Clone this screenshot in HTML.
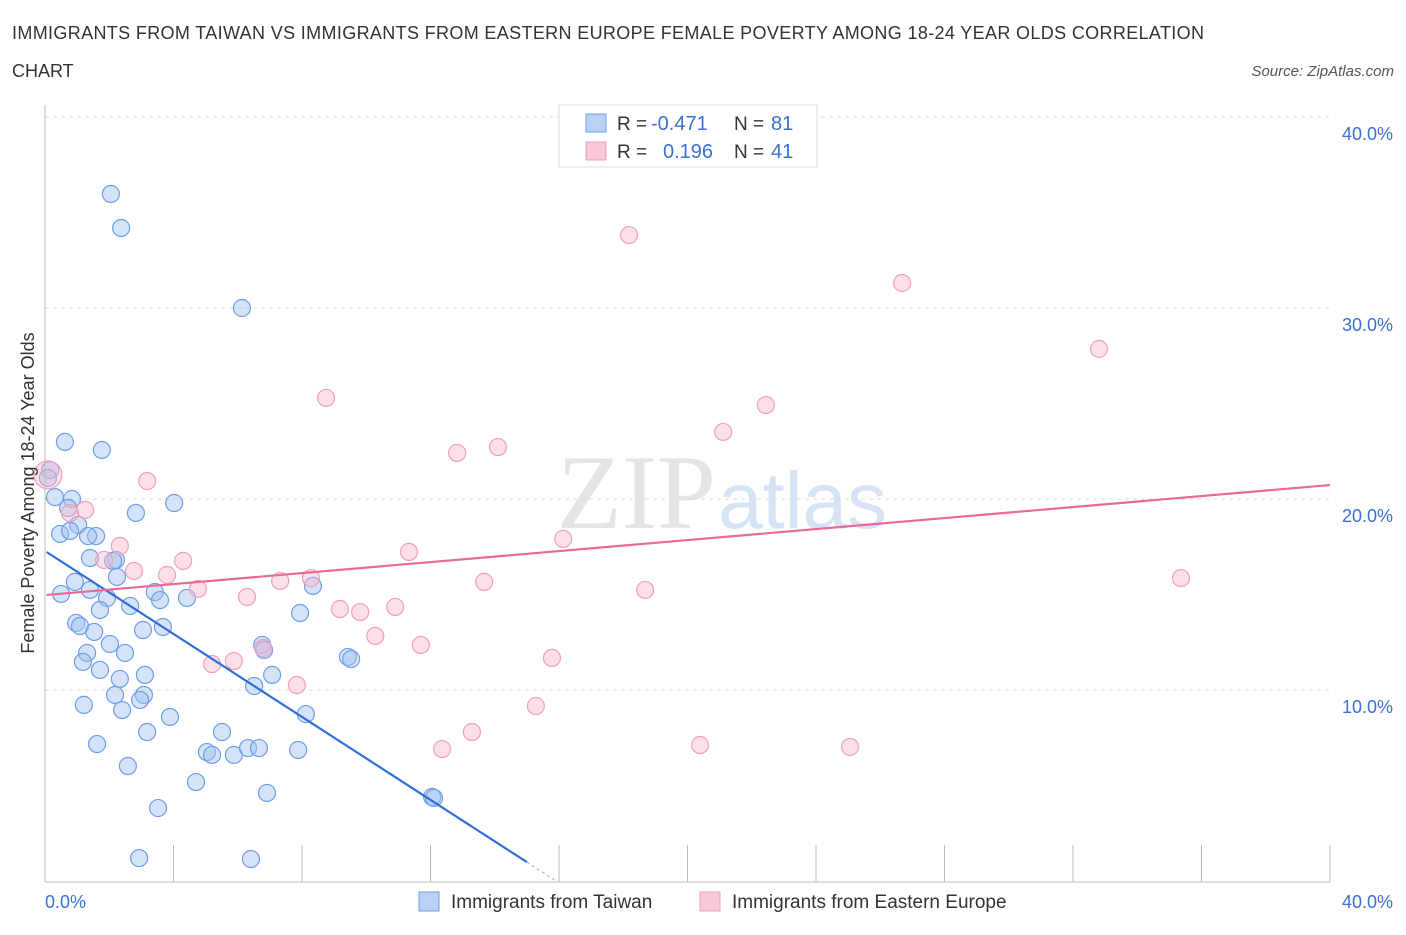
<!DOCTYPE html>
<html><head><meta charset="utf-8"><style>
body{margin:0;background:#fff;font-family:"Liberation Sans",sans-serif}
</style></head><body>
<svg id="c" width="1406" height="930" xmlns="http://www.w3.org/2000/svg" style="font-family:'Liberation Sans',sans-serif">
<text x="12" y="39" font-size="18" fill="#333" textLength="1192">IMMIGRANTS FROM TAIWAN VS IMMIGRANTS FROM EASTERN EUROPE FEMALE POVERTY AMONG 18-24 YEAR OLDS CORRELATION</text>
<text x="12" y="77" font-size="18" fill="#333">CHART</text>
<text x="1394" y="76" font-size="15" fill="#555" font-style="italic" text-anchor="end">Source: ZipAtlas.com</text>
<text x="716" y="528" font-size="106" fill="#e4e4e4" text-anchor="end" font-family="Liberation Serif,serif">ZIP</text>
<text x="718" y="528" font-size="80" fill="#d6e3f5">atlas</text>
<g id="grid"></g>
<g id="pts"></g>
<g id="lines"></g>
<line x1="45" y1="105" x2="45" y2="882" stroke="#bbb"/>
<line x1="45" y1="882" x2="1330" y2="882" stroke="#bbb"/>
<text x="45" y="908" font-size="18" fill="#3b70d6">0.0%</text>
<text x="1393" y="908" font-size="18" fill="#3b70d6" text-anchor="end">40.0%</text>
<text transform="translate(34,493) rotate(-90)" font-size="18" fill="#333" text-anchor="middle">Female Poverty Among 18-24 Year Olds</text>
<g>
<rect x="559" y="105" width="258" height="62" fill="#fff" stroke="#ddd"/>
<rect x="586" y="114" width="20" height="18" fill="#b9d1f5" stroke="#6f9ee6"/>
<rect x="586" y="142" width="20" height="18" fill="#f9c8d6" stroke="#f0a0b8"/>
<text x="617" y="130" font-size="19" fill="#333">R =</text>
<text x="651" y="130" font-size="20" fill="#3b70d6">-0.471</text>
<text x="734" y="130" font-size="19" fill="#333">N =</text>
<text x="771" y="130" font-size="20" fill="#3b70d6">81</text>
<text x="617" y="158" font-size="19" fill="#333">R =</text>
<text x="663" y="158" font-size="20" fill="#3b70d6">0.196</text>
<text x="734" y="158" font-size="19" fill="#333">N =</text>
<text x="771" y="158" font-size="20" fill="#3b70d6">41</text>
</g>
<g>
<rect x="419" y="892" width="20" height="19" fill="#b9d1f5" stroke="#6f9ee6"/>
<text x="451" y="908" font-size="19" fill="#333">Immigrants from Taiwan</text>
<rect x="700" y="892" width="20" height="19" fill="#f9c8d6" stroke="#f0a0b8"/>
<text x="732" y="908" font-size="19" fill="#333">Immigrants from Eastern Europe</text>
</g>
</svg>
<script>
const blueX=[2.05,2.37,6.13,0.62,1.77,0.16,0.09,0.84,0.31,4.02,2.83,0.72,1.03,0.47,0.78,1.59,1.34,2.21,1.4,2.12,0.93,2.24,1.4,0.5,1.93,3.42,4.42,3.58,2.65,1.71,8.34,0.97,1.09,3.67,3.05,1.53,2.02,7.94,2.49,1.31,6.76,6.82,1.18,1.71,3.11,2.33,9.43,9.53,7.07,6.51,2.18,3.08,2.96,1.21,2.4,3.89,8.12,3.18,5.51,1.62,5.04,5.2,5.88,6.32,6.66,7.88,2.58,4.7,6.91,12.05,12.11,3.52,2.93,6.41];
const blueY=[35.97,34.19,30.0,22.99,22.57,21.52,21.1,20.0,20.1,19.79,19.27,19.53,18.64,18.17,18.33,18.06,18.06,16.81,16.91,16.76,15.66,15.92,15.24,15.03,14.82,15.13,14.82,14.71,14.4,14.19,15.45,13.51,13.35,13.3,13.14,13.04,12.41,14.03,11.94,11.94,12.36,12.1,11.47,11.05,10.79,10.58,11.73,11.62,10.79,10.21,9.74,9.74,9.48,9.22,8.95,8.59,8.74,7.8,7.8,7.17,6.75,6.6,6.6,6.96,6.96,6.86,6.02,5.18,4.61,4.4,4.35,3.82,1.2,1.15];
const pinkX=[0.09,18.18,26.68,32.81,8.75,22.44,21.11,14.1,12.83,3.18,1.25,0.78,16.13,11.33,2.33,4.3,1.84,2.77,3.8,7.32,8.28,13.67,4.76,18.68,35.36,6.29,9.18,9.81,10.9,10.28,11.7,6.79,5.88,5.2,15.78,7.84,15.28,13.29,12.36,20.39,25.06];
const pinkY=[21.26,33.82,31.31,27.86,25.29,24.92,23.51,22.72,22.41,20.94,19.43,19.27,17.91,17.23,17.54,16.76,16.81,16.23,16.02,15.71,15.86,15.66,15.29,15.24,15.86,14.87,14.24,14.08,14.35,12.83,12.36,12.2,11.52,11.36,11.68,10.26,9.16,7.8,6.91,7.12,7.02];
const yTicks=[10,20,30,40];
const yTickLabels=["10.0%","20.0%","30.0%","40.0%"];
const xTicks=[4,8,12,16,20,24,28,32,36,40];
const blueTrend=[17.28,-1.086];
const pinkTrend=[14.97,0.144];
const NS="http://www.w3.org/2000/svg";
const sx=v=>45+v/40*1285, sy=v=>881-v/10*191;
function mk(t,a,p){const e=document.createElementNS(NS,t);for(const k in a)e.setAttribute(k,a[k]);p.appendChild(e);return e;}
const g=document.getElementById('grid');
yTicks.forEach((v,i)=>{
 const l=mk('line',{x1:45,x2:1330,y1:sy(v),y2:sy(v),stroke:'#ddd','stroke-dasharray':'4,4'},g);
 
 
 const t=mk('text',{x:1393,y:sy(v)+23,'font-size':18,fill:'#3b70d6','text-anchor':'end'},g);
 t.textContent=yTickLabels[i];
 
 
});
xTicks.forEach(v=>{
 const l=mk('line',{x1:sx(v),x2:sx(v),y1:845,y2:882,stroke:'#bbb'},g);
 
 
});
const P=document.getElementById('pts');
blueX.forEach((x,i)=>{
 const c=mk('circle',{cx:sx(x),cy:sy(blueY[i]),r:8.5,fill:'rgba(160,192,240,0.45)',stroke:'#6f9ee6','stroke-width':1.2},P);
 
 
});
pinkX.forEach((x,i)=>{
 const c=mk('circle',{cx:sx(x),cy:sy(pinkY[i]),r:i==0?14:8.5,fill:'rgba(248,185,205,0.45)',stroke:'#f0a0b8','stroke-width':1.2},P);
 
 
});
const L=document.getElementById('lines');
const xEnd=15.0;
let b=mk('line',{x1:sx(0.05),y1:sy(blueTrend[0]+blueTrend[1]*0.05),x2:sx(xEnd),y2:sy(blueTrend[0]+blueTrend[1]*xEnd),stroke:'#2f6fd6','stroke-width':2.2},L);


let bd=mk('line',{x1:sx(xEnd),y1:sy(blueTrend[0]+blueTrend[1]*xEnd),x2:sx(15.9),y2:sy(blueTrend[0]+blueTrend[1]*15.9),stroke:'#9ab',"stroke-dasharray":'3,3','stroke-width':1},L);


let p=mk('line',{x1:sx(0.05),y1:sy(pinkTrend[0]+pinkTrend[1]*0.05),x2:sx(40),y2:sy(pinkTrend[0]+pinkTrend[1]*40),stroke:'#e8699a','stroke-width':2.2},L);


</script>
</body></html>
